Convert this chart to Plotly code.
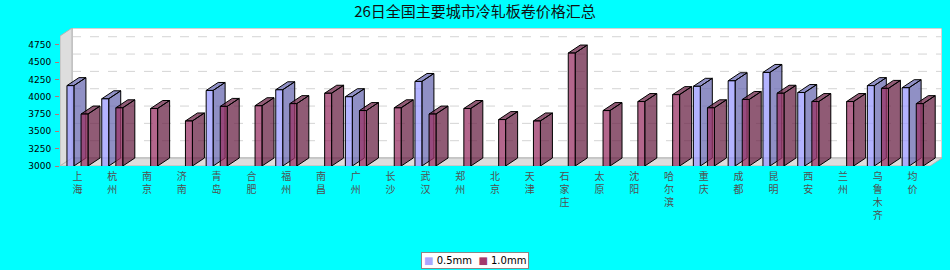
import plotly.graph_objects as go

# ---------------- data ----------------
cities = ["上海", "杭州", "南京", "济南", "青岛", "合肥", "福州", "南昌", "广州", "长沙",
          "武汉", "郑州", "北京", "天津", "石家庄", "太原", "沈阳", "哈尔滨", "重庆", "成都",
          "昆明", "西安", "兰州", "乌鲁木齐", "均价"]
vals_05 = [4160, 3970, None, None, 4090, None, 4100, None, 4000, None,
           4220, None, None, None, None, None, None, None, 4150, 4230,
           4350, 4060, None, 4160, 4130]
vals_10 = [3750, 3840, 3830, 3650, 3860, 3870, 3900, 4050, 3800, 3840,
           3750, 3830, 3670, 3650, 4630, 3800, 3930, 4030, 3840, 3960,
           4050, 3930, 3930, 4120, 3900]
series_names = ["0.5mm", "1.0mm"]
y_ticks = [3000, 3250, 3500, 3750, 4000, 4250, 4500, 4750]
title_text = "26日全国主要城市冷轧板卷价格汇总"

# ---------------- styling / geometry ----------------
N = len(cities)
X0, X1 = -0.5, N - 0.5
DX = 0.345      # 3D depth in x units
DY = 115        # 3D depth in y units
YMIN, YMAX = 3000, 4991
BAR_W = 0.2
OFFS = [-0.3, 0.105]
front_cols = ["rgba(153,153,255,0.75)", "rgba(153,51,102,0.75)"]
side_cols = ["rgba(107,107,178,0.75)", "rgba(107,36,71,0.75)"]
legend_cols = ["#A8A8FF", "#A33A6C"]

ticktext = ["<br>".join(list(c)) for c in cities]
xs_idx = list(range(N))

fig = go.Figure()

# side + top faces (base subplot, drawn underneath the front faces)
for s, vals in enumerate([vals_05, vals_10]):
    px, py = [], []
    for i, v in enumerate(vals):
        if v is None:
            continue
        L = i + OFFS[s]
        R = L + BAR_W
        px += [R, R + DX, R + DX, R, R, None]
        py += [YMIN, YMIN + DY, v + DY, v, YMIN, None]
        px += [L, L + DX, R + DX, R, L, None]
        py += [v, v + DY, v + DY, v, v, None]
    fig.add_trace(go.Scatter(x=px, y=py, mode="lines", fill="toself",
                             fillcolor=side_cols[s],
                             line=dict(color="black", width=1),
                             showlegend=False, hoverinfo="skip",
                             xaxis="x", yaxis="y"))

# front faces (overlay subplot so they are drawn on top)
for s, vals in enumerate([vals_05, vals_10]):
    fig.add_trace(go.Bar(x=xs_idx, y=vals, name=series_names[s],
                         width=BAR_W, offset=OFFS[s],
                         marker=dict(color=front_cols[s],
                                     line=dict(color="black", width=1)),
                         showlegend=False,
                         xaxis="x2", yaxis="y2"))

shapes = []
shapes.append(dict(type="rect", xref="x", yref="y", layer="below",
                   x0=X0 + DX, x1=X1 + DX, y0=YMIN + DY, y1=YMAX,
                   fillcolor="white", line=dict(color="#A8A8A8", width=1)))
for t in y_ticks[1:]:
    shapes.append(dict(type="line", xref="x", yref="y", layer="below",
                       x0=X0 + DX, x1=X1 + DX, y0=t + DY, y1=t + DY,
                       line=dict(color="#D4D4D4", width=1, dash="dash")))
shapes.append(dict(type="path", xref="x", yref="y", layer="below",
                   path=f"M {X0},{YMIN} L {X0 + DX},{YMIN + DY} L {X0 + DX},{YMAX} L {X0},{YMAX - DY} Z",
                   fillcolor="#DDDDDD", line=dict(color="#B4B4B4", width=1)))
shapes.append(dict(type="path", xref="x", yref="y", layer="below",
                   path=f"M {X0},{YMIN} L {X1},{YMIN} L {X1 + DX},{YMIN + DY} L {X0 + DX},{YMIN + DY} Z",
                   fillcolor="#DDDDDD", line=dict(color="#B4B4B4", width=1)))

# compact legend box
legend_text = "  ".join(
    f"<span style='color:{c}'>■</span> {n}" for c, n in zip(legend_cols, series_names))
annotations = [dict(xref="paper", yref="paper", x=(475 - 60) / 882, y=(166 - 260) / 138,
                    xanchor="center", yanchor="middle", showarrow=False,
                    text=legend_text, bgcolor="white", bordercolor="#888888",
                    borderwidth=1, borderpad=2,
                    font=dict(family="DejaVu Sans", size=10, color="black"))]

axis_common = dict(showgrid=False, zeroline=False, automargin=False)
fig.update_layout(
    width=950, height=270,
    paper_bgcolor="#00FFFF", plot_bgcolor="#00FFFF",
    margin=dict(l=60, r=8, t=28, b=104, autoexpand=False),
    title=dict(text=title_text, x=0.5, xanchor="center", y=1 - 12 / 270,
               yanchor="middle", yref="container",
               font=dict(family="Noto Sans CJK SC", size=15, color="#111111")),
    xaxis=dict(range=[X0, X1 + DX], tickvals=xs_idx, ticktext=ticktext,
               ticks="", showline=False, ticklabelstandoff=3,
               tickfont=dict(family="Noto Sans CJK SC", size=10, color="#505050"),
               **axis_common),
    yaxis=dict(range=[YMIN, YMAX], tickvals=y_ticks, ticks="outside",
               ticklen=4, tickcolor="#C07070", showline=False, ticklabelstandoff=2,
               tickfont=dict(family="DejaVu Sans", size=9, color="black"),
               **axis_common),
    xaxis2=dict(range=[X0, X1 + DX], overlaying="x", visible=False, **axis_common),
    yaxis2=dict(range=[YMIN, YMAX], overlaying="y", visible=False, **axis_common),
    barmode="overlay",
    shapes=shapes,
    annotations=annotations,
    showlegend=False,
)

fig.write_html("out.html", config={"displayModeBar": False},
               post_script="document.body.style.margin='0px';document.body.style.overflow='hidden';")
